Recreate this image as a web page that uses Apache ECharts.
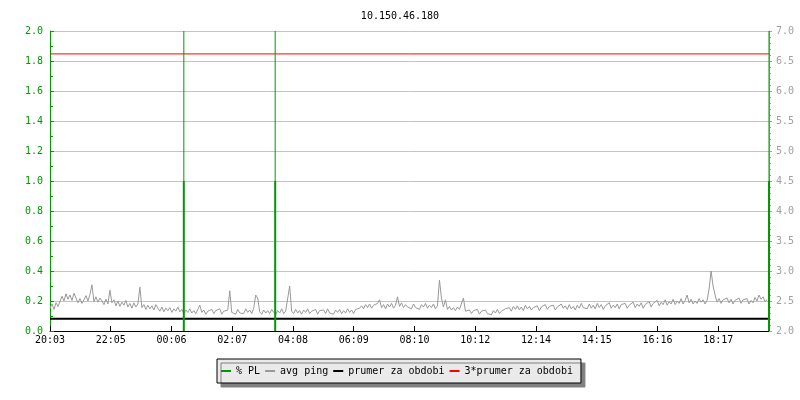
<!DOCTYPE html>
<html><head><meta charset="utf-8">
<script src="https://cdn.jsdelivr.net/npm/echarts@6/dist/echarts.min.js"></script>
<style>html,body{margin:0;padding:0;background:#fff}#c{width:800px;height:400px}</style>
</head><body><div id="c"></div>
<script>
const titleText = '10.150.46.180';
const xTickLabels = ['20:03','22:05','00:06','02:07','04:08','06:09','08:10','10:12','12:14','14:15','16:16','18:17'];
const xTickStep = 121.6667;   // minutes between time labels
const periodMinutes = 1440;   // 24 h shown
const pingStep = 4;           // minutes between ping samples
const pingValues = [
2.38,2.45,2.36,2.47,2.41,2.49,2.58,2.50,2.62,2.53,
2.60,2.51,2.63,2.55,2.47,2.54,2.46,2.52,2.59,2.50,
2.61,2.77,2.49,2.57,2.48,2.55,2.50,2.44,2.53,2.45,
2.68,2.47,2.52,2.42,2.50,2.41,2.48,2.43,2.51,2.40,
2.46,2.38,2.47,2.40,2.45,2.73,2.39,2.44,2.36,2.43,
2.37,2.42,2.35,2.44,2.38,2.33,2.40,2.32,2.38,2.34,
2.39,2.31,2.37,2.33,2.40,2.32,2.36,2.29,2.35,2.31,
2.37,2.30,2.34,2.29,2.36,2.43,2.31,2.35,2.28,2.33,
2.30,2.36,2.29,2.34,2.31,2.37,2.28,2.33,2.30,2.35,
2.67,2.31,2.34,2.28,2.36,2.30,2.33,2.29,2.37,2.31,
2.35,2.29,2.38,2.60,2.55,2.32,2.28,2.35,2.30,2.34,
2.29,2.36,2.31,2.27,2.34,2.30,2.37,2.29,2.33,2.31,
2.75,2.33,2.29,2.36,2.30,2.34,2.28,2.35,2.31,2.37,
2.29,2.33,2.30,2.36,2.28,2.34,2.31,2.35,2.29,2.37,
2.30,2.33,2.28,2.35,2.31,2.36,2.29,2.34,2.30,2.37,
2.31,2.35,2.29,2.36,2.33,2.38,2.42,2.37,2.44,2.39,
2.45,2.38,2.43,2.40,2.46,2.52,2.39,2.44,2.37,2.45,
2.40,2.46,2.38,2.43,2.57,2.41,2.47,2.39,2.44,2.40,
2.43,2.37,2.45,2.39,2.42,2.36,2.44,2.40,2.46,2.38,
2.43,2.39,2.45,2.37,2.42,2.85,2.55,2.40,2.52,2.36,
2.41,2.35,2.39,2.34,2.40,2.36,2.38,2.55,2.33,2.30,
2.35,2.29,2.34,2.31,2.36,2.28,2.33,2.30,2.35,2.29,
2.32,2.27,2.34,2.30,2.36,2.29,2.33,2.31,2.37,2.34,
2.39,2.33,2.41,2.36,2.42,2.35,2.40,2.34,2.43,2.37,
2.41,2.35,2.39,2.36,2.42,2.34,2.40,2.37,2.44,2.36,
2.41,2.38,2.43,2.35,2.40,2.37,2.45,2.38,2.42,2.36,
2.44,2.37,2.41,2.35,2.43,2.38,2.46,2.39,2.42,2.37,
2.45,2.38,2.43,2.37,2.46,2.39,2.44,2.36,2.42,2.40,
2.47,2.38,2.43,2.39,2.45,2.37,2.44,2.41,2.46,2.38,
2.43,2.40,2.48,2.39,2.45,2.41,2.47,2.38,2.44,2.42,
2.49,2.40,2.46,2.43,2.51,2.42,2.48,2.44,2.52,2.43,
2.49,2.45,2.53,2.44,2.50,2.46,2.54,2.45,2.51,2.60,
2.47,2.53,2.45,2.50,2.46,2.54,2.48,2.52,2.45,2.51,
2.70,3.00,2.75,2.60,2.48,2.54,2.46,2.52,2.49,2.55,
2.47,2.53,2.45,2.51,2.48,2.55,2.46,2.52,2.49,2.54,
2.45,2.51,2.47,2.56,2.50,2.60,2.53,2.57,2.49,2.52
];
const plTimes  = [268, 451, 1440];   // minutes from start
const plValues = [1.0, 1.0, 1.0];    // % PL
const plPeaks  = [2.0, 2.0, 2.0];    // thin spike reaches top
const avgPeriod  = 2.206;
const avg3Period = 6.618;

const FONT = 'DejaVu Sans Mono';
const GREEN = '#009a00', GREY = '#999999', GRID = '#c4c4c4';

const pingData = pingValues.map((v, i) => [i * pingStep, v]);
const plThick = plTimes.map((t, i) => [t, 0, plValues[i]]);
const plThin  = plTimes.map((t, i) => [t, plValues[i], plPeaks[i]]);

function vline(width) {
  return function (params, api) {
    const p0 = api.coord([api.value(0), api.value(1)]);
    const p1 = api.coord([api.value(0), api.value(2)]);
    return {type: 'line', shape: {x1: p0[0], y1: p0[1], x2: p1[0], y2: p1[1]},
            style: {stroke: GREEN, lineWidth: width}};
  };
}

const chart = echarts.init(document.getElementById('c'), null, {renderer: 'canvas'});
chart.setOption({
  animation: false,
  backgroundColor: '#fff',
  title: {text: titleText, left: 'center', top: 6,
          textStyle: {fontFamily: FONT, fontSize: 10, fontWeight: 'normal', color: '#000'}},
  legend: {
    left: 217, top: 359, padding: [7, 8, 7, 4], itemGap: 5, itemWidth: 10, itemHeight: 2,
    backgroundColor: '#eaeaea', borderColor: '#000', borderWidth: 1,
    shadowColor: '#808080', shadowBlur: 0, shadowOffsetX: 4, shadowOffsetY: 4,
    textStyle: {fontFamily: FONT, fontSize: 10, color: '#000'},
    data: [
      {name: '% PL', icon: 'rect', itemStyle: {color: GREEN}},
      {name: 'avg ping', icon: 'rect', itemStyle: {color: GREY}},
      {name: 'prumer za obdobi', icon: 'rect', itemStyle: {color: '#000'}},
      {name: '3*prumer za obdobi', icon: 'rect', itemStyle: {color: '#ff0000'}}
    ]
  },
  grid: {left: 50, right: 31, top: 31, bottom: 69},
  xAxis: {
    type: 'value', min: 0, max: periodMinutes, interval: xTickStep,
    axisLine: {lineStyle: {color: '#000', width: 1}},
    axisTick: {inside: true, length: 5, lineStyle: {color: '#000'}},
    axisLabel: {color: '#000', fontFamily: FONT, fontSize: 10, margin: 4, showMaxLabel: false,
      formatter: v => { const k = Math.round(v / xTickStep); return Math.abs(v - k * xTickStep) < 1 && xTickLabels[k] ? xTickLabels[k] : ''; }},
    splitLine: {show: false}
  },
  yAxis: [
    {type: 'value', position: 'left', min: 0, max: 2, interval: 0.2,
     axisLine: {show: true, lineStyle: {color: GREEN}},
     axisTick: {show: true, inside: true, length: 4, lineStyle: {color: GREEN}},
     minorTick: {show: true, splitNumber: 2, length: 3, lineStyle: {color: GREEN}},
     axisLabel: {color: GREEN, fontFamily: FONT, fontSize: 10, margin: 7, formatter: v => v.toFixed(1)},
     splitLine: {show: true, lineStyle: {color: GRID, width: 1}}},
    {type: 'value', position: 'right', min: 2, max: 7, interval: 0.5,
     axisLine: {show: true, lineStyle: {color: '#a0a0a0'}},
     axisTick: {show: true, length: 3, lineStyle: {color: '#a0a0a0'}},
     minorTick: {show: true, splitNumber: 5, length: 2, lineStyle: {color: '#a0a0a0'}},
     axisLabel: {color: '#a0a0a0', fontFamily: FONT, fontSize: 10, margin: 7, formatter: v => v.toFixed(1)},
     splitLine: {show: false}}
  ],
  series: [
    {name: 'avg ping', type: 'line', yAxisIndex: 1, data: pingData, showSymbol: false, symbol: 'none',
     color: GREY, lineStyle: {color: GREY, width: 1}, z: 2},
    {name: 'prumer za obdobi', type: 'line', yAxisIndex: 1, showSymbol: false, symbol: 'none',
     data: [[0, avgPeriod], [periodMinutes, avgPeriod]], color: '#000', lineStyle: {color: '#000', width: 2}, z: 3},
    {name: '3*prumer za obdobi', type: 'line', yAxisIndex: 1, showSymbol: false, symbol: 'none',
     data: [[0, avg3Period], [periodMinutes, avg3Period]], color: '#ff0000', lineStyle: {color: '#ff0000', width: 1}, z: 3},
    {name: '% PL', type: 'custom', yAxisIndex: 0, renderItem: vline(1), data: plThin, clip: false,
     encode: {x: 0, y: [1, 2]}, itemStyle: {color: GREEN}, z: 4},
    {name: '% PL', type: 'custom', yAxisIndex: 0, renderItem: vline(2), data: plThick, clip: false,
     encode: {x: 0, y: [1, 2]}, itemStyle: {color: GREEN}, z: 5}
  ]
});
</script></body></html>
